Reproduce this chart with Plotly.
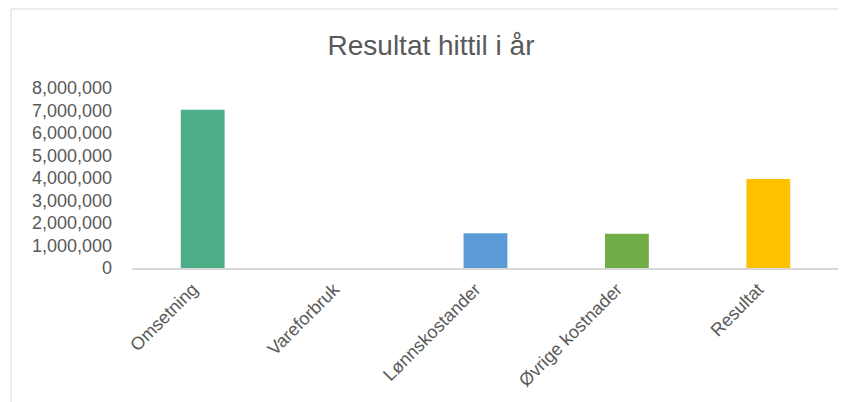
import plotly.graph_objects as go

categories = ["Omsetning", "Vareforbruk", "Lønnskostander", "Øvrige kostnader", "Resultat"]
values = [7030000, 0, 1550000, 1520000, 3960000]
bar_colors = ["#4CAD87", "#ED7D31", "#5B9BD5", "#70AD47", "#FFC000"]
y_ticks = [0, 1000000, 2000000, 3000000, 4000000, 5000000, 6000000, 7000000, 8000000]
title_text = "Resultat hittil i år"

# page body has an 8px default margin, so figure is sized to fit in the window
W, H = 838, 394
L, R, T, B = 124, 7, 80, 134

fig = go.Figure(go.Bar(
    x=categories, y=values,
    marker=dict(color=bar_colors, line=dict(width=0)),
))

pw = W - L - R
ph = H - T - B

fig.update_layout(
    width=W, height=H,
    margin=dict(l=L, r=R, t=T, b=B, pad=0),
    paper_bgcolor="white", plot_bgcolor="white",
    font=dict(family="Arial, Liberation Sans, sans-serif", color="#595959", size=18),
    bargap=0.69,
    showlegend=False,
    title=dict(text=title_text, x=423 / W, xanchor="center", xref="container",
               y=1 - 37 / H, yanchor="middle", yref="container",
               font=dict(size=28, color="#595959")),
    xaxis=dict(showgrid=False, showline=True, linecolor="#D9D9D9", linewidth=1.5,
               tickangle=-45, ticks="", ticklabelstandoff=2, ticklabelshift=-10,
               tickfont=dict(size=18, color="#595959")),
    yaxis=dict(range=[0, 8000000], tickvals=y_ticks, tickformat=",d",
               showgrid=False, showline=False, zeroline=False, ticks="",
               ticklabelstandoff=19, tickfont=dict(size=18, color="#595959")),
    shapes=[dict(type="rect", xref="paper", yref="paper",
                 x0=(3 - L) / pw, x1=(W + 20 - L) / pw,
                 y0=(H - B - (H + 20)) / ph, y1=(H - B - 1) / ph,
                 line=dict(color="#D9D9D9", width=1), layer="below")],
)

fig.write_html("out.html")
